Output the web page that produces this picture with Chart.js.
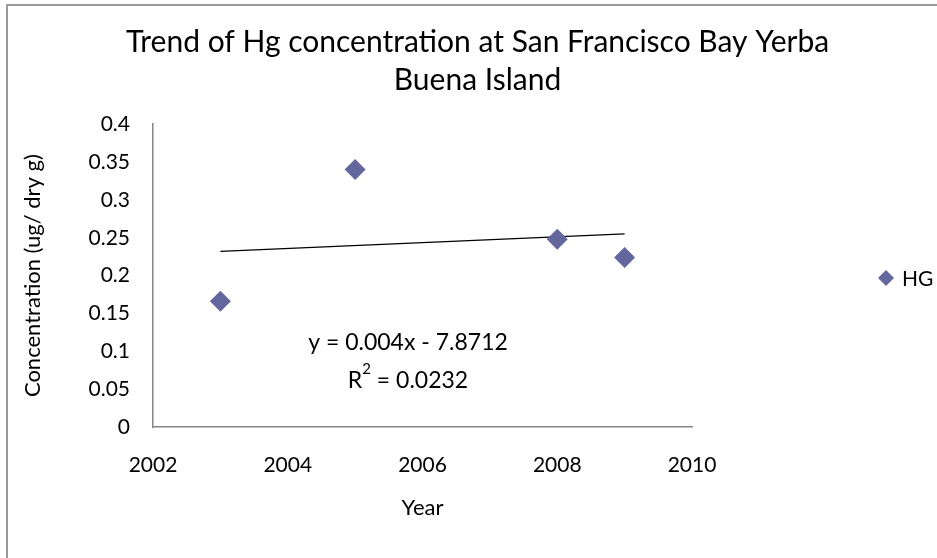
<!DOCTYPE html>
<html>
<head>
<meta charset="utf-8">
<script src="https://cdn.jsdelivr.net/npm/chart.js@4"></script>
<style>
  html, body { margin: 0; padding: 0; background: #fff; overflow: hidden; }
  #wrap { width: 937px; height: 558px; position: relative; }
</style>
</head>
<body>
<div id="wrap"><canvas id="chart"></canvas></div>
<script>
// data
const years = [2003, 2005, 2008, 2009];
const hgValues = [0.166, 0.340, 0.248, 0.224];
// trendline ends as drawn in the original
const trendYears = [2003, 2009];
const trendValues = [0.232, 0.255];
const yTicks = [0, 0.05, 0.1, 0.15, 0.2, 0.25, 0.3, 0.35, 0.4];
const xTicks = [2002, 2004, 2006, 2008, 2010];

const FONT = "Lato, 'Open Sans', sans-serif";
const markerColor = '#64669e';

// gray frame + legend + equation label
const extras = {
  id: 'extras',
  beforeDraw(chart) {
    const ctx = chart.ctx;
    ctx.save();
    ctx.strokeStyle = '#9a9a9a';
    ctx.lineWidth = 2;
    ctx.strokeRect(7, 5, 2000, 2000);
    ctx.restore();
  },
  afterDraw(chart) {
    const ctx = chart.ctx;
    const area = chart.chartArea;
    const ds = chart.data.datasets[0];
    ctx.save();
    // legend
    const lx = 886, ly = 278;
    ctx.fillStyle = ds.backgroundColor;
    ctx.beginPath();
    ctx.moveTo(lx - 8, ly);
    ctx.lineTo(lx, ly - 8);
    ctx.lineTo(lx + 8, ly);
    ctx.lineTo(lx, ly + 8);
    ctx.closePath();
    ctx.fill();
    ctx.fillStyle = '#000';
    ctx.font = '21px ' + FONT;
    ctx.textBaseline = 'middle';
    ctx.textAlign = 'left';
    ctx.fillText(ds.label, lx + 16, ly + 1);

    // trendline equation
    const cx = area.left + 255;
    ctx.font = '23px ' + FONT;
    ctx.textAlign = 'center';
    ctx.fillText('y = 0.004x - 7.8712', cx, area.top + 218);
    const rest = ' = 0.0232';
    const wR = ctx.measureText('R').width;
    ctx.font = '15px ' + FONT;
    const w2 = ctx.measureText('2').width;
    ctx.font = '23px ' + FONT;
    const wRest = ctx.measureText(rest).width;
    let x = cx - (wR + w2 + wRest) / 2;
    const y = area.top + 256;
    ctx.textAlign = 'left';
    ctx.fillText('R', x, y);
    x += wR;
    ctx.font = '15px ' + FONT;
    ctx.fillText('2', x, y - 11);
    x += w2;
    ctx.font = '23px ' + FONT;
    ctx.fillText(rest, x, y);
    ctx.restore();
  }
};

new Chart(document.getElementById('chart'), {
  type: 'scatter',
  data: {
    datasets: [
      {
        label: 'HG',
        data: years.map((x, i) => ({ x, y: hgValues[i] })),
        backgroundColor: markerColor,
        borderColor: markerColor,
        pointStyle: 'rectRot',
        pointRadius: 10.5,
        pointHoverRadius: 10.5,
        borderWidth: 0
      },
      {
        label: 'trend',
        type: 'line',
        data: trendYears.map((x, i) => ({ x, y: trendValues[i] })),
        borderColor: '#000',
        borderWidth: 1.2,
        pointRadius: 0,
        fill: false
      }
    ]
  },
  options: {
    responsive: true,
    maintainAspectRatio: false,
    animation: false,
    layout: { padding: { left: 18, right: 0, top: 10, bottom: 33 } },
    plugins: {
      legend: { display: false },
      tooltip: { enabled: false },
      title: {
        display: true,
        text: ['Trend of Hg concentration at San Francisco Bay Yerba', 'Buena Island'],
        color: '#000',
        font: { family: FONT, size: 30, weight: 'normal', lineHeight: 1.27 },
        padding: { top: 13, bottom: 25 }
      }
    },
    scales: {
      x: {
        type: 'linear',
        min: xTicks[0],
        max: xTicks[xTicks.length - 1],
        afterBuildTicks: s => { s.ticks = xTicks.map(v => ({ value: v })); },
        afterFit: s => { s.height = 558 - 33 - 427; },
        grid: { display: false },
        border: { display: true, color: '#868686', width: 1.5 },
        ticks: {
          color: '#000',
          padding: 18,
          maxRotation: 0,
          font: { family: FONT, size: 21 },
          callback: v => String(v)
        },
        title: {
          display: true,
          text: 'Year',
          color: '#000',
          font: { family: FONT, size: 22 },
          padding: { top: 12 }
        }
      },
      y: {
        min: yTicks[0],
        max: yTicks[yTicks.length - 1],
        afterBuildTicks: s => { s.ticks = yTicks.map(v => ({ value: v })); },
        afterFit: s => { s.width = 153 - 18; },
        grid: { display: false },
        border: { display: true, color: '#868686', width: 1.5 },
        ticks: {
          color: '#000',
          padding: 15,
          font: { family: FONT, size: 21 },
          callback: v => String(Number(v.toFixed(2)))
        },
        title: {
          display: true,
          text: 'Concentration (ug/ dry g)',
          color: '#000',
          font: { family: FONT, size: 22 },
          padding: { top: 2, bottom: 4 }
        }
      },
      yRight: {
        position: 'right',
        display: true,
        afterFit: s => { s.width = 937 - 692; },
        grid: { display: false },
        border: { display: false },
        ticks: { display: false }
      }
    }
  },
  plugins: [extras]
});
</script>
</body>
</html>
